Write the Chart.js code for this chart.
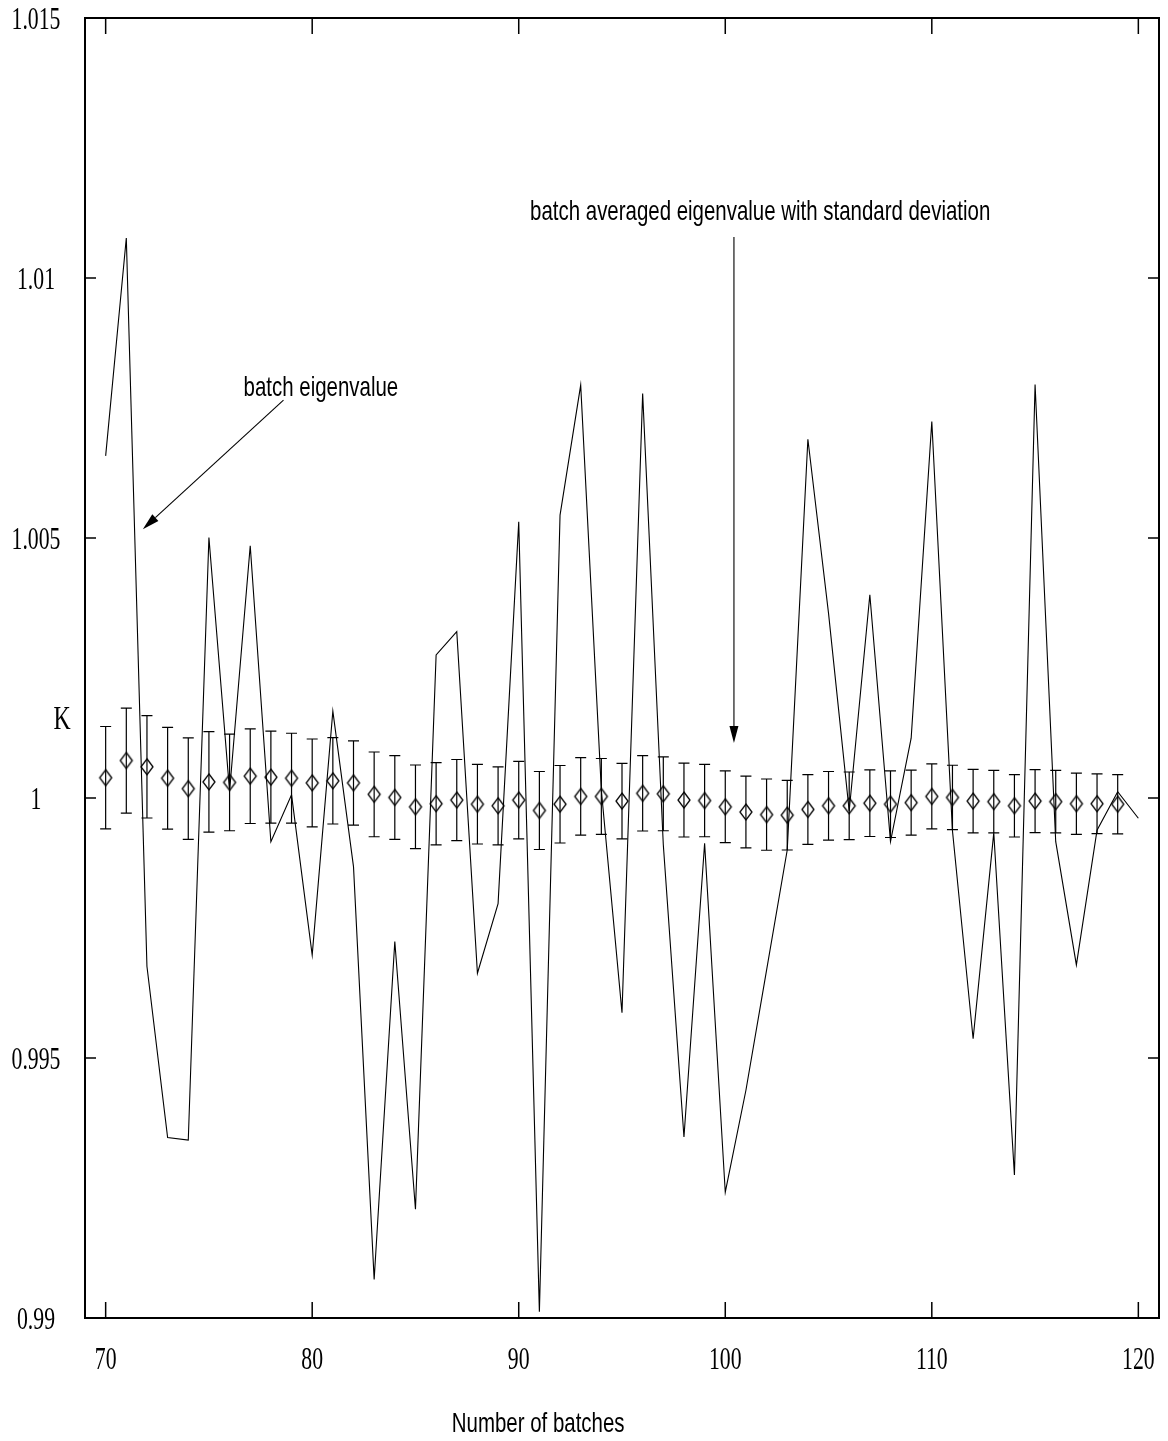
<!DOCTYPE html>
<html lang="en">
<head>
<meta charset="UTF-8">
<title>Batch eigenvalue</title>
<style>
    html, body { margin: 0; padding: 0; background: #fff; overflow: hidden; }
    #wrap { width: 1168px; height: 1441px; }
</style>
</head>
<body>
<div id="wrap"><canvas id="chart" width="1168" height="1441"></canvas></div>
<script src="https://cdn.jsdelivr.net/npm/chart.js"></script>
<script>
// batch eigenvalue, one per batch
const batches = [70, 71, 72, 73, 74, 75, 76, 77, 78, 79, 80, 81, 82, 83, 84, 85, 86, 87, 88, 89,
    90, 91, 92, 93, 94, 95, 96, 97, 98, 99, 100, 101, 102, 103, 104, 105, 106, 107, 108, 109,
    110, 111, 112, 113, 114, 115, 116, 117, 118, 119, 120];
const batchEigenvalue = [1.00658, 1.01077, 0.99676, 0.99347, 0.99342, 1.00501, 1.00013, 1.00485, 0.99916, 1.00006,
    0.99698, 1.00167, 0.99868, 0.99074, 0.99724, 0.99209, 1.00275, 1.00320, 0.99663, 0.99797,
    1.00531, 0.99012, 1.00544, 1.00794, 1.00015, 0.99587, 1.00778, 0.99910, 0.99348, 0.99913,
    0.99242, 0.99438, 0.99669, 0.99900, 1.00690, 1.00355, 0.99975, 1.00391, 0.99916, 1.00115,
    1.00724, 0.99937, 0.99537, 0.99933, 0.99275, 1.00795, 0.99916, 0.99679, 0.99938, 1.00012,
    0.99961];

// batch averaged eigenvalue and its standard deviation
const avgBatches = [70, 71, 72, 73, 74, 75, 76, 77, 78, 79, 80, 81, 82, 83, 84, 85, 86, 87, 88, 89,
    90, 91, 92, 93, 94, 95, 96, 97, 98, 99, 100, 101, 102, 103, 104, 105, 106, 107, 108, 109,
    110, 111, 112, 113, 114, 115, 116, 117, 118, 119];
const avgEigenvalue = [1.00039, 1.00072, 1.00060, 1.00038, 1.00018, 1.00031, 1.00030, 1.00042, 1.00040, 1.00038,
    1.00029, 1.00033, 1.00029, 1.00007, 1.00001, 0.99983, 0.99989, 0.99996, 0.99988, 0.99985,
    0.99996, 0.99976, 0.99988, 1.00003, 1.00003, 0.99994, 1.00009, 1.00008, 0.99996, 0.99995,
    0.99983, 0.99973, 0.99968, 0.99967, 0.99978, 0.99985, 0.99985, 0.99990, 0.99988, 0.99991,
    1.00003, 1.00001, 0.99994, 0.99993, 0.99985, 0.99994, 0.99993, 0.99989, 0.99989, 0.99988];
const stdDeviation = [0.000985, 0.00101, 0.000985, 0.00098, 0.000975, 0.000965, 0.00093, 0.00091, 0.000885, 0.000865,
    0.000845, 0.00083, 0.00081, 0.000815, 0.000805, 0.000805, 0.00079, 0.00078, 0.000765, 0.00075,
    0.000745, 0.00075, 0.000745, 0.000745, 0.00073, 0.000725, 0.000725, 0.00071, 0.00071, 0.000695,
    0.00069, 0.00069, 0.000685, 0.00067, 0.00067, 0.00066, 0.00065, 0.00064, 0.00064, 0.000625,
    0.000625, 0.00062, 0.00061, 0.0006, 0.0006, 0.000605, 0.0006, 0.00059, 0.000575, 0.00057];

const xTicks = [70, 80, 90, 100, 110, 120];
const xTickLabels = ['70', '80', '90', '100', '110', '120'];
const yTicks = [0.99, 0.995, 1, 1.005, 1.01, 1.015];
const yTickLabels = ['0.99', '0.995', '1', '1.005', '1.01', '1.015'];

// arrows + labels, in data coordinates
const notes = [
    { text: 'batch eigenvalue', x: 76.68, y: 1.00774, from: [78.61, 1.00765], to: [71.80, 1.00517] },
    { text: 'batch averaged eigenvalue with standard deviation', x: 90.55, y: 1.01112, from: [100.42, 1.01079], to: [100.42, 1.00106] }
];

const SERIF = '"Liberation Serif", "Times New Roman", serif';
const SANS = '"Liberation Sans", Arial, sans-serif';

// condensed text (the original fonts are narrow)
function squeeze(ctx, text, x, y, size, family, align, base, sx) {
    ctx.save();
    ctx.font = size + 'px ' + family;
    ctx.fillStyle = '#000';
    ctx.textAlign = align;
    ctx.textBaseline = base;
    ctx.translate(x, y);
    ctx.scale(sx, 1);
    ctx.fillText(text, 0, 0);
    ctx.restore();
}

function makeDiamond() {
    const c = document.createElement('canvas');
    c.width = 16;
    c.height = 20;
    const g = c.getContext('2d');
    g.strokeStyle = '#000';
    g.lineWidth = 1.3;
    g.beginPath();
    g.moveTo(8, 2);
    g.lineTo(14, 10);
    g.lineTo(8, 18);
    g.lineTo(2, 10);
    g.closePath();
    g.stroke();
    return c;
}

const errorBars = {
    id: 'errorBars',
    beforeDatasetsDraw(chart) {
        const ctx = chart.ctx, xs = chart.scales.x, ys = chart.scales.y;
        ctx.save();
        ctx.strokeStyle = '#000';
        ctx.lineWidth = 1.2;
        avgBatches.forEach((b, i) => {
            const px = xs.getPixelForValue(b);
            const top = ys.getPixelForValue(avgEigenvalue[i] + stdDeviation[i]);
            const bot = ys.getPixelForValue(avgEigenvalue[i] - stdDeviation[i]);
            ctx.beginPath();
            ctx.moveTo(px, top); ctx.lineTo(px, bot);
            ctx.moveTo(px - 5.5, top); ctx.lineTo(px + 5.5, top);
            ctx.moveTo(px - 5.5, bot); ctx.lineTo(px + 5.5, bot);
            ctx.stroke();
        });
        ctx.restore();
    }
};

function arrow(ctx, x1, y1, x2, y2) {
    const a = Math.atan2(y2 - y1, x2 - x1);
    const len = 17, half = 4.5;
    ctx.beginPath();
    ctx.moveTo(x1, y1);
    ctx.lineTo(x2 - len * Math.cos(a), y2 - len * Math.sin(a));
    ctx.stroke();
    ctx.beginPath();
    ctx.moveTo(x2, y2);
    ctx.lineTo(x2 - len * Math.cos(a) + half * Math.sin(a), y2 - len * Math.sin(a) - half * Math.cos(a));
    ctx.lineTo(x2 - len * Math.cos(a) - half * Math.sin(a), y2 - len * Math.sin(a) + half * Math.cos(a));
    ctx.closePath();
    ctx.fill();
}

const frame = {
    id: 'frame',
    afterDraw(chart) {
        const ctx = chart.ctx, xs = chart.scales.x, ys = chart.scales.y;
        const { left, right, top, bottom } = chart.chartArea;
        ctx.save();
        ctx.strokeStyle = '#000';
        ctx.fillStyle = '#000';

        // box
        ctx.lineWidth = 2;
        ctx.strokeRect(left, top, right - left, bottom - top);

        // inward ticks
        ctx.lineWidth = 1.5;
        ctx.beginPath();
        xTicks.forEach(v => {
            const px = xs.getPixelForValue(v);
            ctx.moveTo(px, bottom); ctx.lineTo(px, bottom - 16);
            ctx.moveTo(px, top); ctx.lineTo(px, top + 16);
        });
        yTicks.forEach(v => {
            const py = ys.getPixelForValue(v);
            ctx.moveTo(left, py); ctx.lineTo(left + 11, py);
            ctx.moveTo(right, py); ctx.lineTo(right - 11, py);
        });
        ctx.stroke();

        // tick labels
        xTicks.forEach((v, i) => {
            squeeze(ctx, xTickLabels[i], xs.getPixelForValue(v), bottom + 43, 32, SERIF, 'center', 'middle', 0.68);
        });
        yTicks.forEach((v, i) => {
            squeeze(ctx, yTickLabels[i], left - 49, ys.getPixelForValue(v) + 3, 32, SERIF, 'center', 'middle', 0.68);
        });

        // axis titles
        squeeze(ctx, 'K', left - 23, ys.getPixelForValue(1.00150), 34, SERIF, 'center', 'middle', 0.7);
        squeeze(ctx, 'Number of batches', xs.getPixelForValue(90.94), bottom + 114, 28, SANS, 'center', 'alphabetic', 0.73);

        // annotations
        ctx.lineWidth = 1.1;
        notes.forEach(n => {
            squeeze(ctx, n.text, xs.getPixelForValue(n.x), ys.getPixelForValue(n.y), 28, SANS, 'left', 'alphabetic', 0.73);
            arrow(ctx, xs.getPixelForValue(n.from[0]), ys.getPixelForValue(n.from[1]),
                xs.getPixelForValue(n.to[0]), ys.getPixelForValue(n.to[1]));
        });
        ctx.restore();
    }
};

new Chart(document.getElementById('chart').getContext('2d'), {
    type: 'scatter',
    data: {
        datasets: [
            {
                label: 'batch eigenvalue',
                type: 'line',
                data: batches.map((b, i) => ({ x: b, y: batchEigenvalue[i] })),
                borderColor: '#000',
                borderWidth: 1.1,
                pointRadius: 0,
                tension: 0,
                fill: false
            },
            {
                label: 'batch averaged eigenvalue',
                data: avgBatches.map((b, i) => ({ x: b, y: avgEigenvalue[i] })),
                pointStyle: makeDiamond(),
                pointRadius: 8,
                showLine: false
            }
        ]
    },
    options: {
        responsive: false,
        animation: false,
        devicePixelRatio: 1,
        layout: { padding: { left: 85, right: 8, top: 18, bottom: 123 } },
        plugins: {
            legend: { display: false },
            tooltip: { enabled: false }
        },
        scales: {
            x: { type: 'linear', min: 69, max: 121, display: false },
            y: { type: 'linear', min: 0.99, max: 1.015, display: false }
        }
    },
    plugins: [errorBars, frame]
});
</script>
</body>
</html>
